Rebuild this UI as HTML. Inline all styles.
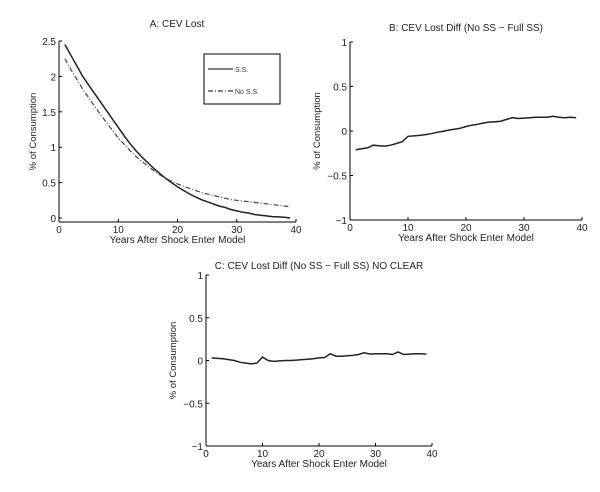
<!DOCTYPE html>
<html><head><meta charset="utf-8"><style>
body{margin:0;background:#fff;}
svg{display:block;font-family:"Liberation Sans",Arial,sans-serif;}
</style></head><body>
<svg id="s" width="600" height="492" viewBox="0 0 600 492"></svg>
<script>
const years = [];
for (let i = 1; i <= 39; i++) years.push(i);
const seriesA_SS = [2.45,2.3,2.15,2.0,1.88,1.76,1.64,1.52,1.40,1.28,1.16,1.05,0.95,0.86,0.78,0.70,0.63,0.56,0.50,0.44,0.39,0.34,0.30,0.26,0.23,0.20,0.17,0.15,0.12,0.10,0.08,0.07,0.05,0.04,0.03,0.02,0.015,0.01,0.0];
const seriesA_NoSS = [2.25,2.1,1.96,1.82,1.70,1.58,1.46,1.35,1.24,1.13,1.04,0.95,0.87,0.80,0.73,0.67,0.61,0.56,0.52,0.48,0.45,0.42,0.39,0.36,0.34,0.32,0.30,0.28,0.26,0.25,0.24,0.23,0.22,0.21,0.20,0.19,0.18,0.17,0.16];
const seriesB = [-0.21,-0.20,-0.19,-0.16,-0.165,-0.17,-0.16,-0.14,-0.12,-0.06,-0.055,-0.05,-0.04,-0.03,-0.015,-0.005,0.01,0.02,0.03,0.05,0.065,0.075,0.09,0.1,0.105,0.11,0.13,0.15,0.14,0.145,0.15,0.155,0.155,0.155,0.165,0.155,0.15,0.155,0.15];
const seriesC = [0.03,0.025,0.02,0.01,0.0,-0.02,-0.03,-0.04,-0.03,0.04,0.0,-0.01,-0.005,0.0,0.0,0.005,0.01,0.015,0.02,0.03,0.035,0.08,0.05,0.05,0.055,0.06,0.07,0.09,0.075,0.08,0.08,0.08,0.07,0.10,0.07,0.075,0.08,0.08,0.075];
const xTicks = [0,10,20,30,40];
const yTicksA = [0,0.5,1,1.5,2,2.5];
const yTicksB = [-1,-0.5,0,0.5,1];
const legendLabels = ["S.S.","No S.S."];

const NS="http://www.w3.org/2000/svg";
const svg=document.getElementById('s');
function el(tag,attrs,parent){const e=document.createElementNS(NS,tag);for(const k in attrs)e.setAttribute(k,attrs[k]);(parent||svg).appendChild(e);return e;}
function txt(t,attrs,parent){const e=el('text',attrs,parent);e.textContent=t;return e;}

function panel(cfg){
  const g=el('g',{});
  
  
  const sx=v=>cfg.x0+(v-0)/(40-0)*(cfg.x1-cfg.x0);
  const sy=v=>cfg.yb-(v-cfg.ymin)/(cfg.ymax-cfg.ymin)*(cfg.yb-cfg.yt);
  const axY=el('line',{x1:cfg.x0,y1:cfg.yt,x2:cfg.x0,y2:cfg.axB,stroke:'#000','stroke-width':1},g);
  
  
  const axX=el('line',{x1:cfg.x0,y1:cfg.axB,x2:cfg.x1,y2:cfg.axB,stroke:'#000','stroke-width':1},g);
  
  
  xTicks.forEach(t=>{
    el('line',{x1:sx(t),y1:cfg.axB,x2:sx(t),y2:cfg.axB-3,stroke:'#000'},g);
    const l=txt(String(t),{x:sx(t),y:cfg.axB+11,'font-size':10,'text-anchor':'middle',fill:'#222'},g);
    
    
  });
  cfg.yTicks.forEach(t=>{
    el('line',{x1:cfg.x0,y1:sy(t),x2:cfg.x0+3,y2:sy(t),stroke:'#000'},g);
    const l=txt(t<0?'\u2212'+Math.abs(t):String(t),{x:cfg.x0-3,y:sy(t)+4,'font-size':10,'text-anchor':'end',fill:'#222'},g);
    
    
  });
  const ti=txt(cfg.title,{x:cfg.tx,y:cfg.ty,'font-size':10,'text-anchor':'middle',fill:'#222'},g);
  
  
  const xl=txt('Years After Shock Enter Model',{x:(cfg.x0+cfg.x1)/2,y:cfg.axB+21,'font-size':10,'text-anchor':'middle',fill:'#222'},g);
  
  
  const yl=txt('% of Consumption',{x:0,y:0,'font-size':9.5,'text-anchor':'middle',fill:'#222',transform:`translate(${cfg.ylx},${(cfg.yt+cfg.axB)/2}) rotate(-90)`},g);
  
  
  cfg.series.forEach(s=>{
    const d=years.map((x,i)=>(i?'L':'M')+sx(x).toFixed(1)+' '+sy(s.data[i]).toFixed(1)).join(' ');
    const p=el('path',{d:d,fill:'none',stroke:s.color,'stroke-width':s.w,'stroke-dasharray':s.dash||'none'},g);
    
    
  });
  return g;
}

panel({name:'panel-a',x0:59,x1:296,yt:41,yb:218,axB:222,ymin:0,ymax:2.5,yTicks:yTicksA,title:'A: CEV Lost',tx:177,ty:27,ylx:36,
  series:[{name:'line-ss',data:seriesA_SS,color:'#222',w:1.5},{name:'line-no-ss',data:seriesA_NoSS,color:'#444',w:1.2,dash:'5,2,1,2'}]});
panel({name:'panel-b',x0:350,x1:582,yt:42,yb:220,axB:220,ymin:-1,ymax:1,yTicks:yTicksB,title:'B: CEV Lost Diff (No SS \u2212 Full SS)',tx:466,ty:31,ylx:320,
  series:[{name:'line-diff',data:seriesB,color:'#222',w:1.5}]});
panel({name:'panel-c',x0:206,x1:432,yt:275,yb:446,axB:446,ymin:-1,ymax:1,yTicks:yTicksB,title:'C: CEV Lost Diff (No SS \u2212 Full SS) NO CLEAR',tx:319,ty:269,ylx:176,
  series:[{name:'line-diff-no-clear',data:seriesC,color:'#222',w:1.5}]});

// legend
const lg=el('g',{});


el('rect',{x:204,y:54,width:76,height:50,fill:'#fff',stroke:'#000','stroke-width':1},lg);
const dashes=['none','5,2,1,2'];
legendLabels.forEach((lab,i)=>{
  const y=69+i*22;
  const ln=el('line',{x1:208,y1:y,x2:233,y2:y,stroke:'#333','stroke-width':1.2,'stroke-dasharray':dashes[i]},lg);
  
  
  const t=txt(lab,{x:235,y:y+3,'font-size':7,fill:'#333'},lg);
  
  
});
</script>
</body></html>
